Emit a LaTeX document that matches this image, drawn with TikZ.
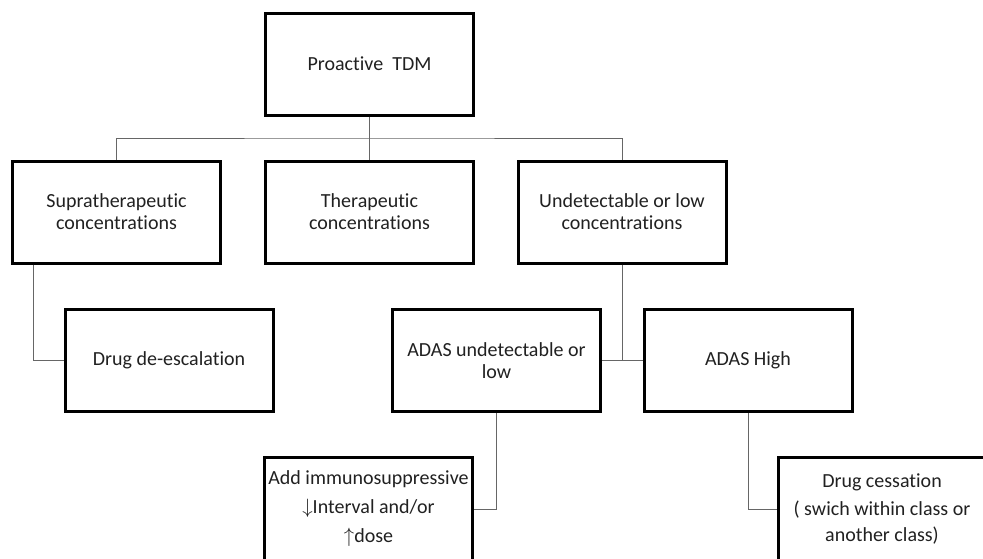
\documentclass[tikz,border=0pt]{standalone}
\usepackage{fontspec}
\setmainfont{Carlito}[Ligatures={NoCommon}]
\begin{document}
\begin{tikzpicture}[x=1pt,y=-1pt,
  box/.style={draw=black, line width=3pt, fill=white, align=center,
    text=black!87, font=\fontsize{20}{22}\selectfont, inner sep=2pt,
    minimum width=208pt, minimum height=102pt},
  tallbox/.style={box, font=\fontsize{20}{29}\selectfont, minimum height=104pt},
  conn/.style={draw=black!60, line width=1pt}]
\useasboundingbox[fill=white] (0,0) rectangle (983,558);
\clip (0,0) rectangle (983,558);

\node[box] (tdm) at (369.5,64) {Proactive\ \ TDM};
\node[box] (supra) at (116.5,212) {Supratherapeutic\\concentrations};
\node[box] (thera) at (369.5,212) {Therapeutic\\concentrations};
\node[box] (undet) at (622,212) {Undetectable or low\\concentrations};

\node[box] (drugde) at (169,360.5) {Drug de-escalation};
\node[box] (adasu) at (496.5,360.5) {ADAS undetectable or\\low};
\node[box] (adash) at (748,360.5) {ADAS High};

\node[tallbox] (add) at (368.5,509) {Add immunosuppressive\\$\downarrow$Interval and/or\\$\uparrow$dose};
\node[tallbox, font=\fontsize{20}{26}\selectfont] (drugc) at (882,509) {Drug cessation\\[2pt]( swich within class or\\another class)};

\coordinate (bus) at (369.5,138);
\draw[conn] (tdm.south) -- (thera.north);
\draw[conn] (supra.north) |- (bus) -| (undet.north);
\draw[conn] ([xshift=22pt]supra.south west) |- (drugde.west);
\draw[conn] (undet.south) -- (undet.south |- adasu.east);
\draw[conn] (adasu.east) -- (adash.west);
\draw[conn] (adasu.south) |- (add.east);
\draw[conn] (adash.south) |- (drugc.west);
\end{tikzpicture}
\end{document}
